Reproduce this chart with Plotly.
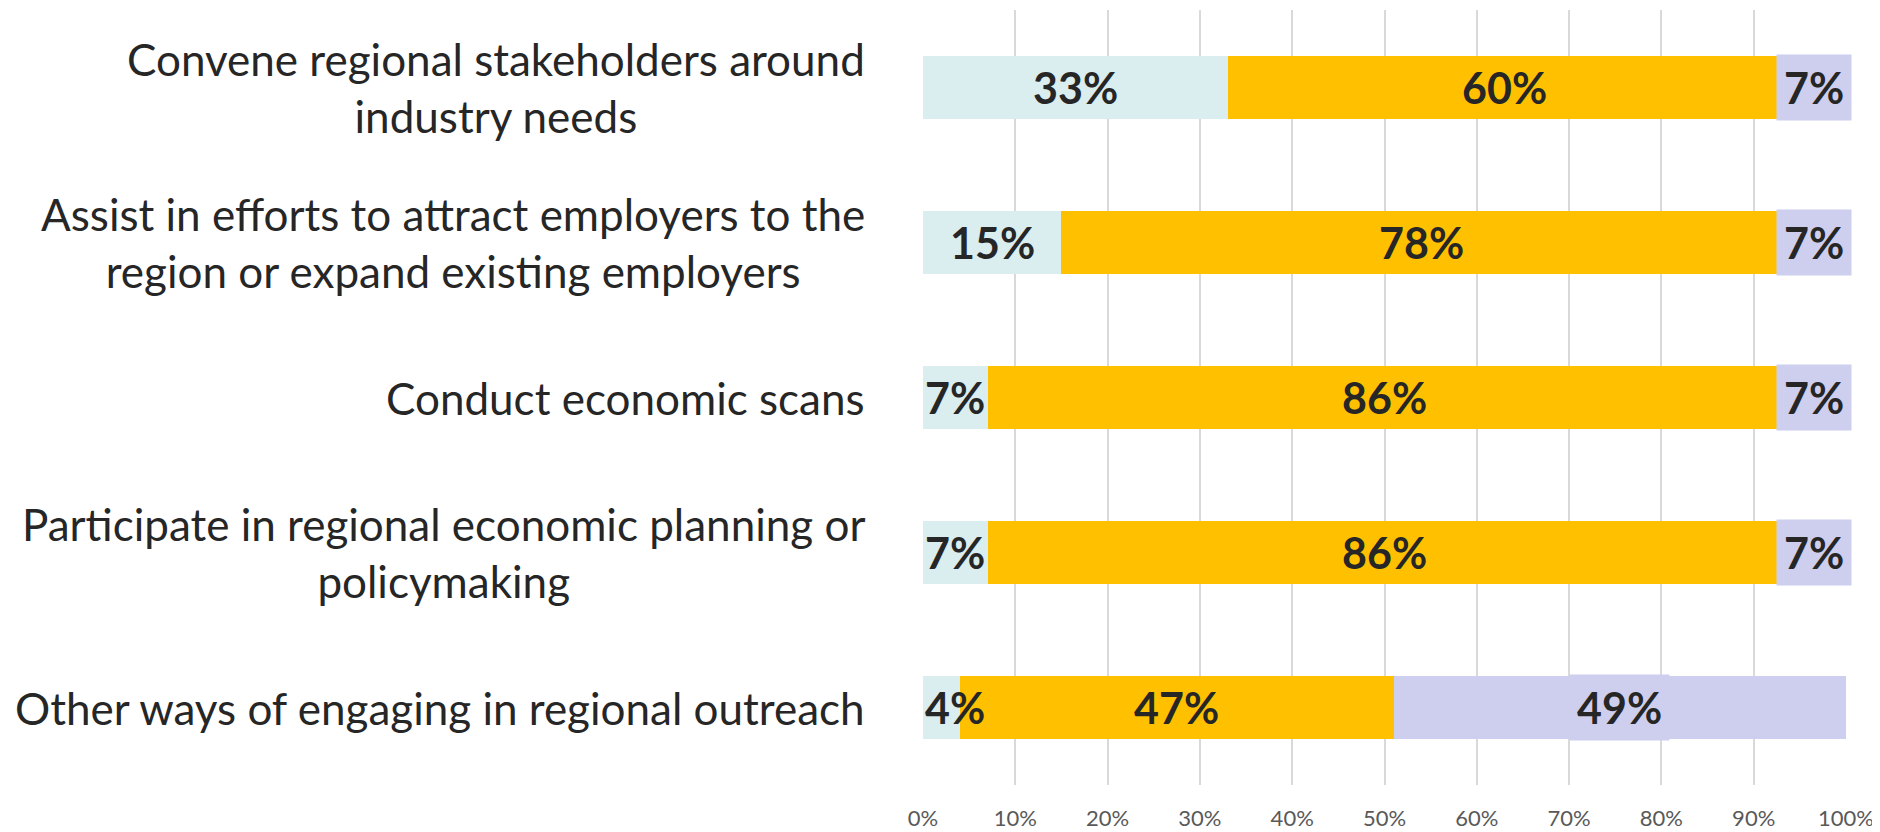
import plotly.graph_objects as go

categories = [
    "Convene regional stakeholders around<br>industry needs",
    "Assist in efforts to attract employers to the<br>region or expand existing employers",
    "Conduct economic scans",
    "Participate in regional economic planning or<br>policymaking",
    "Other ways of engaging in regional outreach",
]
series_a = [33, 15, 7, 7, 4]
series_b = [60, 78, 86, 86, 47]
series_c = [7, 7, 7, 7, 49]
x_ticks = [0, 10, 20, 30, 40, 50, 60, 70, 80, 90, 100]

colors = ["#DAEDEF", "#FFC000", "#CECFEE"]
FONT = "Lato, 'Liberation Sans', sans-serif"
TXT = "#262626"

fig = go.Figure()
for vals, col in zip([series_a, series_b, series_c], colors):
    fig.add_trace(go.Bar(
        y=categories, x=vals, orientation="h",
        marker=dict(color=col, line=dict(width=0)),
        hoverinfo="skip", showlegend=False,
    ))

# data labels
annotations = []
for i, cat in enumerate(categories):
    start = 0
    for k, vals in enumerate([series_a, series_b, series_c]):
        v = vals[i]
        mid = start + v / 2
        ann = dict(
            x=mid, y=cat, xref="x", yref="y", text=f"<b>{v}%</b>",
            showarrow=False, xanchor="center", yanchor="middle",
            font=dict(family=FONT, size=43, color=TXT),
        )
        if mid < 2.6:
            ann.update(x=0, xanchor="left")
        if k == 2:
            ann.update(bgcolor=colors[2], borderpad=7)
        annotations.append(ann)
        start += v

for cat in categories:
    annotations.append(dict(
        x=-0.061, y=cat, xref="paper", yref="y", text=cat,
        showarrow=False, xanchor="right", yanchor="middle", align="center",
        font=dict(family=FONT, size=44, color=TXT),
    ))

fig.update_layout(
    width=1880, height=832,
    barmode="stack", bargap=0.59,
    paper_bgcolor="white", plot_bgcolor="white",
    margin=dict(l=915, r=42, t=2, b=55),
    annotations=annotations,
    font=dict(family=FONT),
    xaxis=dict(
        range=[0, 100], tickvals=x_ticks, ticktext=[f"{t}%" for t in x_ticks],
        showgrid=True, gridcolor="#D9D9D9", gridwidth=1.5,
        zeroline=False, showline=False,
        tickfont=dict(family=FONT, size=22, color="#595959"),
        ticklabelstandoff=18,
    ),
    yaxis=dict(
        categoryorder="array", categoryarray=categories, autorange="reversed",
        showticklabels=False, showgrid=False, zeroline=False, showline=False,
    ),
)

fig.write_html("out.html")
